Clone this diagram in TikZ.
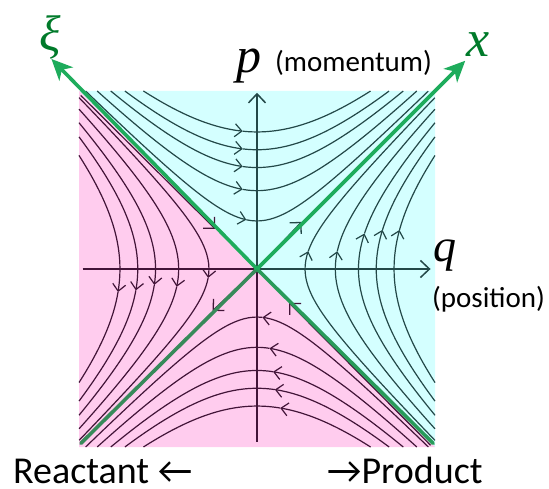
\documentclass[tikz,border=0pt]{standalone}
\usepackage{fontspec}
\newfontfamily\calib{Carlito}
\newfontfamily\lsfont{Liberation Serif}
\usetikzlibrary{arrows.meta}
\definecolor{cyanbg}{RGB}{212,255,255}
\definecolor{pinkbg}{RGB}{255,204,238}
\definecolor{tealdk}{RGB}{35,72,72}
\definecolor{plumdk}{RGB}{66,20,56}
\definecolor{grn}{RGB}{30,172,92}
\definecolor{grnmd}{RGB}{40,155,90}
\definecolor{grndk}{RGB}{55,138,90}
\definecolor{lblgrn}{RGB}{0,122,42}
\tikzset{
  flowT/.style={tealdk, line width=1.2pt},
  flowP/.style={plumdk, line width=1.2pt},
  flowtip/.style={-{Straight Barb[length=7pt,width=13pt,line width=1.2pt]}},
  septip/.style={-{Straight Barb[length=8pt,width=16pt,line width=1.3pt]}},
  axisline/.style={line width=1.5pt},
  axistip/.style={-{Straight Barb[length=9pt,width=17pt,line width=1.5pt]}},
  greenaxis/.style={line width=3.6pt, line cap=round},
  greentip/.style={-{Stealth[length=21pt,width=19pt,inset=6pt]}},
  biglabel/.style={inner sep=0pt, anchor=base west},
}
\begin{document}
\begin{tikzpicture}[x=1pt,y=1pt]
\useasboundingbox (0,0) rectangle (549,488);
\begin{scope}[shift={(257pt,219pt)}, x=178pt, y=178pt]
  % background regions
  \fill[cyanbg] (-1,1) -- (1,1) -- (1,-1) -- (0,0) -- cycle;
  \fill[pinkbg] (-1,1) -- (0,0) -- (1,-1) -- (-1,-1) -- cycle;
  % top region: moving right
  \foreach \c/\a in {0.27/-0.06,0.44/-0.08,0.57/-0.08,0.67/-0.08,0.77/-0.08}{
    \pgfmathsetmacro\s{sqrt(1-\c*\c)}
    \draw[flowT, flowtip] plot[domain=-\s:\a, samples=40, variable=\t] ({\t},{sqrt(\t*\t+\c*\c)});
    \draw[flowT] plot[domain=\a:\s, samples=40, variable=\t] ({\t},{sqrt(\t*\t+\c*\c)});
  }
  % right region: moving up
  \foreach \c/\a in {0.27/0.10,0.44/0.10,0.57/0.20,0.67/0.22,0.77/0.22}{
    \pgfmathsetmacro\s{sqrt(1-\c*\c)}
    \draw[flowT, flowtip] plot[domain=-\s:\a, samples=40, variable=\t] ({sqrt(\t*\t+\c*\c)},{\t});
    \draw[flowT] plot[domain=\a:\s, samples=40, variable=\t] ({sqrt(\t*\t+\c*\c)},{\t});
  }
  % left region: moving down
  \foreach \c/\a in {0.27/0.05,0.44/0.10,0.57/0.09,0.67/0.12,0.77/0.13}{
    \pgfmathsetmacro\s{sqrt(1-\c*\c)}
    \draw[flowP, flowtip] plot[domain=-\s:\a, samples=40, variable=\t] ({-sqrt(\t*\t+\c*\c)},{-\t});
    \draw[flowP] plot[domain=\a:\s, samples=40, variable=\t] ({-sqrt(\t*\t+\c*\c)},{-\t});
  }
  % bottom region: moving left
  \foreach \c/\a in {0.27/-0.03,0.44/-0.07,0.57/-0.09,0.67/-0.10,0.77/-0.13}{
    \pgfmathsetmacro\s{sqrt(1-\c*\c)}
    \draw[flowP, flowtip] plot[domain=-\s:\a, samples=40, variable=\t] ({-\t},{-sqrt(\t*\t+\c*\c)});
    \draw[flowP] plot[domain=\a:\s, samples=40, variable=\t] ({-\t},{-sqrt(\t*\t+\c*\c)});
  }
  % axes
  \coordinate (O) at (0,0);
  \coordinate (pbot) at (0,-0.97);
  \coordinate (ptop) at (0,0.99);
  \coordinate (qleft) at (-0.98,0);
  \coordinate (qright) at (0.975,0);
  \draw[axisline, plumdk] (pbot) -- (O);
  \draw[axisline, tealdk, axistip] (O) -- (ptop);
  \draw[axisline, plumdk] (qleft) -- (O);
  \draw[axisline, tealdk, axistip] (O) -- (qright);
  % separatrices (under the green lines)
  \coordinate (cUL) at (-0.99,0.99);
  \coordinate (cLL) at (-0.99,-0.98);
  \coordinate (cLR) at (0.99,-0.98);
  \coordinate (sUL) at (-0.99,0.975);
  \coordinate (sLR) at (0.975,-0.99);
  \coordinate (aUL) at (-0.235,0.225);
  \coordinate (aUR) at (0.25,0.265);
  \coordinate (aLL) at (-0.25,-0.235);
  \coordinate (aLR) at (0.18,-0.19);
  \draw[flowP, septip] (sUL) -- (aUL);
  \draw[flowT, septip] (O) -- (aUR);
  \draw[flowP, septip] (O) -- (aLL);
  \draw[flowP, septip] (sLR) -- (aLR);
  % green axes
  \coordinate (xtip) at (1.17,1.17);
  \coordinate (xitip) at (-1.155,1.18);
  \draw[greenaxis, grndk] (cLL) -- (O);
  \draw[greenaxis, grnmd] (cLR) -- (O);
  \draw[greenaxis, grn, greentip, line cap=butt] (O) -- (xtip);
  \draw[greenaxis, grn, greentip, line cap=butt] (O) -- (xitip);
\end{scope}
% labels
\node[text=lblgrn, inner sep=0pt] (xilab) at (50,451) {\lsfont\itshape\fontsize{50}{50}\selectfont ξ};
\node[text=lblgrn, inner sep=0pt] (xlab) at (478,443) {\lsfont\itshape\fontsize{52}{52}\selectfont x};
\node[biglabel] (plab) at (236,415) {\lsfont\itshape\fontsize{50}{50}\selectfont p};
\node[biglabel] (mom) at (275,416) {\calib\fontsize{29}{29}\selectfont (momentum)};
\node[biglabel] (qlab) at (433,226) {\lsfont\itshape\fontsize{46}{46}\selectfont q};
\node[biglabel] (pos) at (432,181) {\calib\fontsize{29}{29}\selectfont (position)};
\node[biglabel, text depth=0pt] (react) at (13,5) {\calib\fontsize{38}{38}\selectfont Reactant ←};
\node[biglabel, text depth=0pt] (prod) at (327,5) {\calib\fontsize{38}{38}\selectfont →Product};
\end{tikzpicture}
\end{document}
